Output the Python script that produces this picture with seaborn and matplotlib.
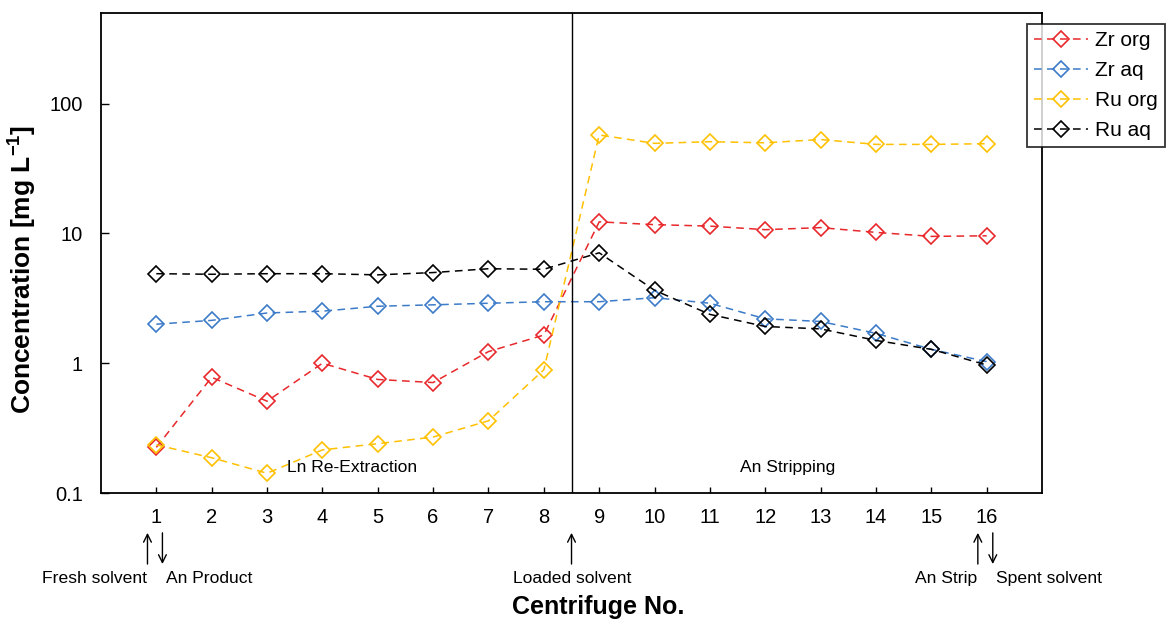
import numpy as np
import pandas as pd
import seaborn as sns
from matplotlib import pyplot as plt
from matplotlib import ticker

sns.set_style("white")
plt.rcParams['font.family'] = ['Liberation Sans', 'DejaVu Sans']
plt.rcParams['text.color'] = 'black'
plt.rcParams['axes.labelcolor'] = 'black'
plt.rcParams['xtick.color'] = 'black'
plt.rcParams['ytick.color'] = 'black'

# data
centrifuge = list(range(1, 17))
zr_org = [0.225, 0.78, 0.51, 1.0, 0.75, 0.71, 1.23, 1.65,
          12.3, 11.7, 11.4, 10.7, 11.1, 10.2, 9.5, 9.6]
zr_aq = [2.0, 2.14, 2.44, 2.52, 2.75, 2.82, 2.9, 2.98,
         2.98, 3.2, 2.9, 2.2, 2.1, 1.7, 1.28, 1.03]
ru_org = [0.235, 0.187, 0.142, 0.215, 0.24, 0.27, 0.36, 0.89,
          57.5, 49.5, 51.0, 50.0, 53.0, 48.6, 48.6, 49.2]
ru_aq = [4.9, 4.85, 4.9, 4.9, 4.8, 5.0, 5.35, 5.3,
         7.1, 3.65, 2.38, 1.92, 1.84, 1.5, 1.28, 0.97]

series_names = ["Zr org", "Zr aq", "Ru org", "Ru aq"]
series_colors = ["#E8282B", "#3C7BC8", "#FFC000", "#000000"]
series_values = [zr_org, zr_aq, ru_org, ru_aq]

fig = plt.figure(figsize=(11.66, 6.21), dpi=100)
ax = fig.add_axes([0.0866, 0.2061, 0.8071, 0.7729])

for name, color, vals in zip(series_names, series_colors, series_values):
    df = pd.DataFrame({"Centrifuge": centrifuge, "Conc": vals})
    sns.lineplot(data=df, x="Centrifuge", y="Conc", ax=ax, color=color,
                 label=name, marker="D", markersize=7.8,
                 markerfacecolor="none", markeredgecolor=color,
                 markeredgewidth=1.2, linewidth=1.1,
                 linestyle=(0, (5, 3.5)))

ax.set_yscale("log")
ax.set_xlim(0, 17)
ax.set_ylim(0.1, 500)
ax.axvline(8.5, color="black", linewidth=1)

# ticks
ax.set_xticks(centrifuge)
ax.set_xticks([8.5], minor=True)
ax.tick_params(axis="x", which="both", direction="in", length=4,
               width=1, labelsize=14.5, pad=11)
ax.yaxis.set_major_locator(ticker.FixedLocator([0.1, 1, 10, 100]))
ax.yaxis.set_major_formatter(ticker.FixedFormatter(["0.1", "1", "10", "100"]))
ax.yaxis.set_minor_locator(ticker.LogLocator(base=10, subs=np.arange(2, 10)))
ax.yaxis.set_minor_formatter(ticker.NullFormatter())
ax.tick_params(axis="y", which="major", direction="in", length=6,
               width=1, labelsize=14.5, pad=13)
ax.tick_params(axis="y", which="minor", direction="in", length=3.5, width=1)
ax.tick_params(left=True, bottom=True)

for sp in ax.spines.values():
    sp.set_color("black")
    sp.set_linewidth(1.3)

ax.set_ylabel("Concentration [mg L$^{\\mathregular{-1}}$]", fontsize=19,
              fontweight="bold")
ax.yaxis.set_label_coords(-0.067, 0.465)
ax.set_xlabel("Centrifuge No.", fontsize=18, fontweight="bold")
ax.xaxis.set_label_coords(0.528, -0.213)

ax.text(4.53, 0.156, "Ln Re-Extraction", fontsize=12.6, ha="center", va="center")
ax.text(12.4, 0.156, "An Stripping", fontsize=12.6, ha="center", va="center")

# feed / product arrows below the axis
trans = ax.get_xaxis_transform()
arrow_kw = dict(arrowstyle="->", color="black", linewidth=1,
                mutation_scale=14, shrinkA=0, shrinkB=0)
arrows = [(0.84, "up"), (1.11, "down"), (8.5, "up"), (15.84, "up"), (16.11, "down")]
for xa, d in arrows:
    if d == "up":
        ax.annotate("", xy=(xa, -0.083), xytext=(xa, -0.148),
                    xycoords=trans, textcoords=trans, arrowprops=arrow_kw,
                    annotation_clip=False)
    else:
        ax.annotate("", xy=(xa, -0.148), xytext=(xa, -0.083),
                    xycoords=trans, textcoords=trans, arrowprops=arrow_kw,
                    annotation_clip=False)

labels = [(-0.12, "Fresh solvent"), (1.96, "An Product"),
          (8.52, "Loaded solvent"), (15.26, "An Strip"), (17.13, "Spent solvent")]
for xt, txt in labels:
    ax.text(xt, -0.178, txt, transform=trans, fontsize=12.6, ha="center",
            va="center", clip_on=False)

leg = ax.legend(loc="upper left", bbox_to_anchor=(0.984, 0.977), fontsize=15,
                frameon=True, fancybox=False, edgecolor="black",
                handlelength=2.6, handletextpad=0.3, borderpad=0.35,
                labelspacing=0.52, borderaxespad=0)
leg.get_frame().set_linewidth(1.3)

fig.savefig("out.png", dpi=100)
